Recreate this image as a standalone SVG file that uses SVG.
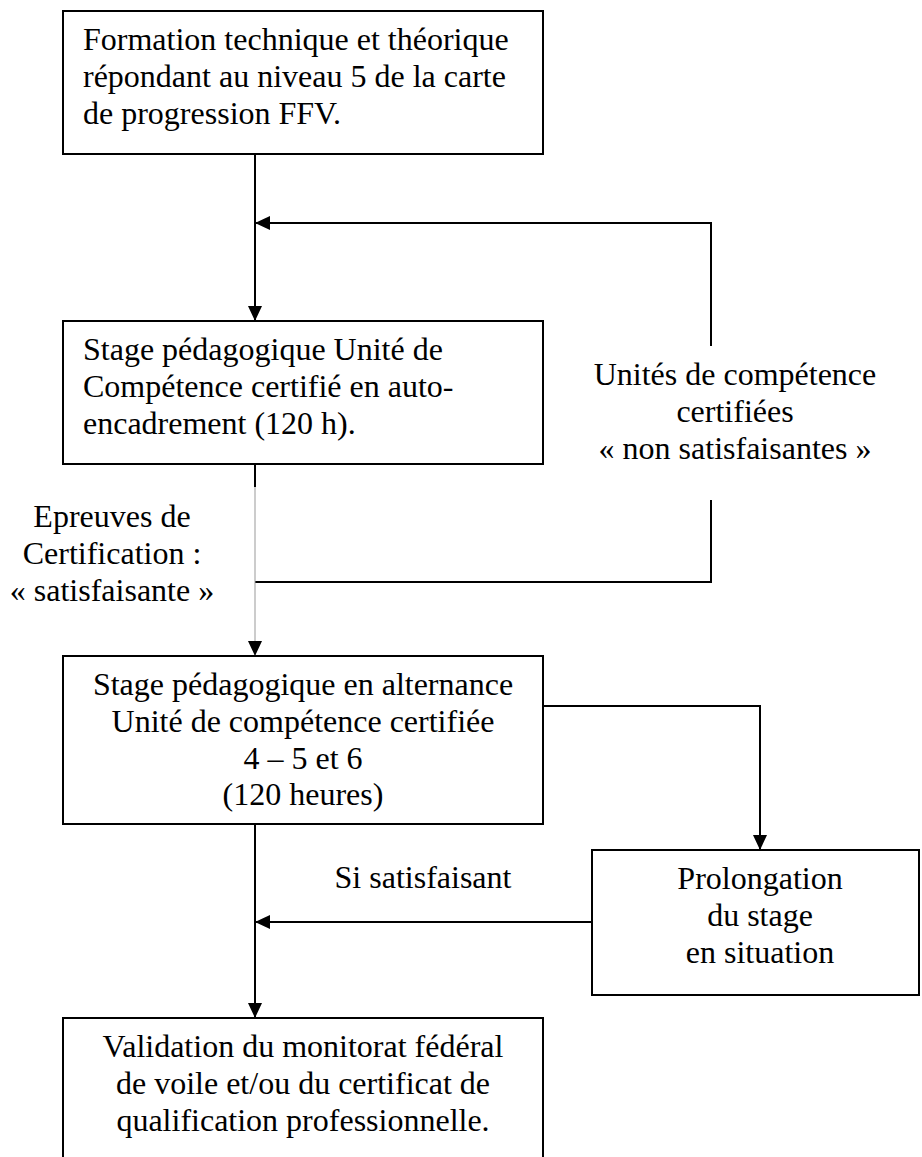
<svg xmlns="http://www.w3.org/2000/svg" width="922" height="1157" viewBox="0 0 922 1157">
<defs>
<style>
.box{fill:#fff;stroke:#000;stroke-width:2}
.ln{fill:none;stroke:#000;stroke-width:2}
.thin{fill:none;stroke:#999;stroke-width:1}
text{font-family:"Liberation Serif","Times New Roman",serif;font-size:32px;fill:#000}
.c{text-anchor:middle}
</style>
<marker id="ah" markerUnits="userSpaceOnUse" markerWidth="15" markerHeight="14" refX="15" refY="7" orient="auto">
<path d="M0,0 L15,7 L0,14 z" fill="#000"/>
</marker>
</defs>
<rect width="922" height="1157" fill="#fff"/>
<g id="connectors">
<path class="ln" d="M255,154 V321" marker-end="url(#ah)"/>
<path class="ln" d="M711,346 V223 H255" marker-end="url(#ah)"/>
<path class="ln" d="M255,582 H711 V500"/>
<path class="ln" d="M255,464 V487"/>
<path class="thin" d="M255,487 V656" marker-end="url(#ah)"/>
<path class="ln" d="M543,706 H760 V850" marker-end="url(#ah)"/>
<path class="ln" d="M592,922 H255" marker-end="url(#ah)"/>
<path class="ln" d="M255,824 V1018" marker-end="url(#ah)"/>
</g>
<g id="node1">
<rect class="box" x="63" y="11" width="480" height="143"/>
<text x="83" y="50">Formation technique et théorique</text>
<text x="83" y="86.8">répondant au niveau 5 de la carte</text>
<text x="83" y="123.6">de progression FFV.</text>
</g>
<g id="node2">
<rect class="box" x="63" y="321" width="480" height="143"/>
<text x="83" y="360">Stage pédagogique Unité de</text>
<text x="83" y="396.8">Compétence certifié en auto-</text>
<text x="83" y="433.6">encadrement (120 h).</text>
</g>
<g id="label-non-satisfaisantes">
<text class="c" x="735" y="385">Unités de compétence</text>
<text class="c" x="735" y="421.8">certifiées</text>
<text class="c" x="735" y="458.6">« non satisfaisantes »</text>
</g>
<g id="label-satisfaisante">
<text class="c" x="112" y="527">Epreuves de</text>
<text class="c" x="112" y="563.8">Certification :</text>
<text class="c" x="112" y="600.6">« satisfaisante »</text>
</g>
<g id="node3">
<rect class="box" x="63" y="656" width="480" height="168"/>
<text class="c" x="303" y="695">Stage pédagogique en alternance</text>
<text class="c" x="303" y="731.8">Unité de compétence certifiée</text>
<text class="c" x="303" y="768.6">4 – 5 et 6</text>
<text class="c" x="303" y="805.4">(120 heures)</text>
</g>
<g id="node4">
<rect class="box" x="592" y="850" width="327" height="145"/>
<text class="c" x="760" y="889">Prolongation</text>
<text class="c" x="760" y="925.8">du stage</text>
<text class="c" x="760" y="962.6">en situation</text>
</g>
<g id="label-si-satisfaisant">
<text class="c" x="423" y="888">Si satisfaisant</text>
</g>
<g id="node5">
<rect class="box" x="63" y="1018" width="480" height="160"/>
<text class="c" x="303" y="1057">Validation du monitorat fédéral</text>
<text class="c" x="303" y="1093.8">de voile et/ou du certificat de</text>
<text class="c" x="303" y="1130.6">qualification professionnelle.</text>
</g>
</svg>
